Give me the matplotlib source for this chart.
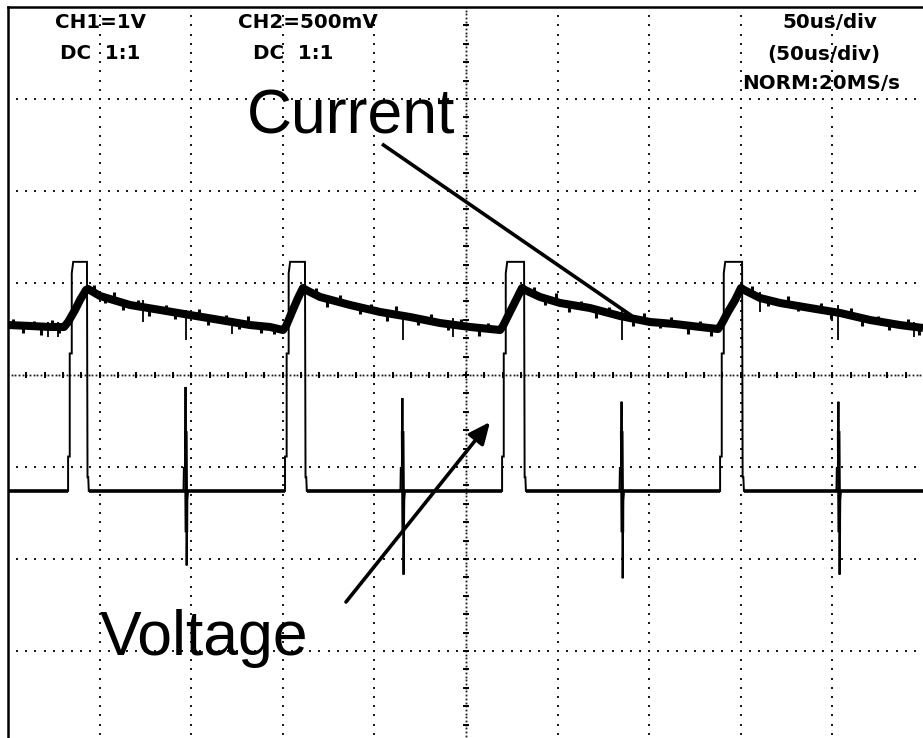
import numpy as np
import matplotlib
matplotlib.use("Agg")
import matplotlib.pyplot as plt
from matplotlib.patches import FancyArrowPatch

# ---------------- data (time in us, 50 us/div; vertical in screen divisions) ----------------
pulse_rise_us = [32.8, 151.2, 269.7, 388.7]
pulse_fall_us = [43.1, 162.1, 281.7, 400.7]
spike_us = [97.2, 215.6, 335.2, 453.6]
spike_high_div = [-0.13, -0.25, -0.29, -0.29]
spike_low_div = [-2.07, -2.17, -2.21, -2.17]
volt_base_div = -1.26
volt_top_div = 1.23

current_t_us = [0.5, 12.0, 22.9, 30.6, 32.8, 36.6, 39.3, 42.6, 43.7, 50.2, 66.6, 83.0, 99.4,
                115.7, 132.1, 143.0, 150.1, 151.8, 155.0, 158.3, 161.0, 162.7, 170.3, 186.7,
                203.1, 219.5, 235.8, 252.2, 268.6, 270.2, 274.0, 277.3, 280.6, 282.2, 290.4,
                301.3, 317.7, 334.1, 350.5, 364.1, 377.8, 387.6, 389.2, 393.0, 396.9, 400.1,
                401.8, 410.5, 421.4, 437.8, 454.2, 470.5, 486.9, 499.5]
current_div = [0.543, 0.533, 0.522, 0.522, 0.576, 0.707, 0.815, 0.924, 0.935, 0.859, 0.761,
               0.707, 0.652, 0.598, 0.543, 0.522, 0.489, 0.533, 0.685, 0.837, 0.946, 0.924,
               0.848, 0.761, 0.685, 0.630, 0.565, 0.522, 0.489, 0.533, 0.685, 0.815, 0.946,
               0.924, 0.848, 0.783, 0.728, 0.641, 0.576, 0.554, 0.522, 0.500, 0.543, 0.685,
               0.815, 0.946, 0.924, 0.837, 0.783, 0.728, 0.674, 0.598, 0.543, 0.511]

# large glitches on the current trace (absolute extents)
glitch_t_us = [21.8, 27.3, 73.7, 97.2, 122.3, 215.6, 242.9, 335.2, 410.5, 453.1, 494.6]
glitch_lo_div = [0.413, 0.413, 0.576, 0.380, 0.446, 0.380, 0.413, 0.380, 0.685, 0.380, 0.413]
glitch_hi_div = [0.576, 0.576, 0.815, 0.707, 0.620, 0.652, 0.620, 0.707, 0.902, 0.761, 0.576]

# small noise blips on the current band (time, signed extent from trace centre)
noise_t_us = [3, 8, 14, 18, 24, 28, 47, 53, 58, 63, 71, 77, 86, 91, 104, 109, 119, 126, 131,
              138, 145, 168, 174, 181, 192, 198, 207, 212, 224, 231, 240, 247, 257, 262, 287,
              293, 299, 306, 313, 321, 328, 341, 347, 356, 362, 371, 378, 384, 406, 415, 426,
              431, 444, 449, 460, 466, 475, 481, 491, 497]
noise_dy_div = [0.07, -0.08, 0.06, -0.09, 0.08, -0.07, 0.08, -0.06, 0.09, -0.08,
                0.07, -0.09, 0.06, -0.07, 0.08, -0.08, 0.07, -0.06, 0.09, -0.08,
                -0.07, 0.07, -0.09, 0.08, -0.07, 0.06, -0.08, 0.09, -0.07, 0.08,
                -0.06, 0.07, -0.09, 0.06, 0.08, -0.07, 0.09, -0.08, 0.06, -0.09,
                0.07, -0.08, 0.08, -0.06, 0.07, -0.09, 0.06, -0.08, 0.08, -0.07,
                0.09, -0.06, 0.07, -0.08, 0.08, -0.09, 0.06, -0.07, 0.08, -0.08]

header_texts = ["CH1=1V", "DC  1:1", "CH2=500mV", "DC  1:1",
                "50us/div", "(50us/div)", "NORM:20MS/s"]
header_pos_px = [(55, 28), (60, 59), (238, 28), (253, 59), (782, 28), (767, 60), (742, 89)]

label_current = "Current"
label_voltage = "Voltage"

# ---------------- figure ----------------
W, H = 923, 738
fig = plt.figure(figsize=(W / 100, H / 100), dpi=100)
fig.patch.set_facecolor("white")
ax = fig.add_axes([8 / W, (H - 743) / H, 916 / W, 736 / H])
ax.set_xlim(0, 500)
ax.set_ylim(-4, 4)
ax.set_xticks([])
ax.set_yticks([])
for s in ax.spines.values():
    s.set_linewidth(1.8)
    s.set_color("black")

dotc = "#1a1a1a"
# regular dotted grid
ydots = np.arange(-4, 4.001, 0.1)
xdots = np.arange(0, 500.01, 5.0)
for gx in [50, 100, 150, 200, 300, 350, 400, 450]:
    ax.plot(np.full_like(ydots, gx), ydots, ls="none", marker="s", ms=1.5, mew=0,
            color=dotc, zorder=1)
for gy in [-3, -2, -1, 1, 2, 3]:
    ax.plot(xdots, np.full_like(xdots, gy), ls="none", marker="s", ms=1.5, mew=0,
            color=dotc, zorder=1)

# dense centre axes with ticks
cy = np.arange(-4, 4.001, 0.04)
cx = np.arange(0, 500.01, 2.0)
ax.plot(np.full_like(cy, 250), cy, ls="none", marker="s", ms=1.3, mew=0, color=dotc, zorder=1)
ax.plot(cx, np.zeros_like(cx), ls="none", marker="s", ms=1.3, mew=0, color=dotc, zorder=1)
ty = np.arange(-4, 4.001, 0.2)
tx = np.arange(0, 500.01, 10.0)
ax.hlines(ty, 250 - 1.9, 250 + 1.9, color="black", lw=1.4, zorder=1)
ax.vlines(tx, -0.038, 0.038, color="black", lw=1.4, zorder=1)

# ---------------- voltage trace ----------------
base, top = volt_base_div, volt_top_div
A = top - base
vt, vy = [0.0], [base]
for i in range(len(pulse_rise_us)):
    tr, tf = pulse_rise_us[i], pulse_fall_us[i]
    vt += [tr, tr, tr + 0.9, tr + 0.9, tr + 2.0, tr + 2.0, tr + 2.8]
    vy += [base, base + 0.15 * A, base + 0.15 * A, base + 0.6 * A, base + 0.6 * A,
           base + 0.95 * A, top]
    vt += [tf, tf + 0.3, tf + 0.7, tf + 1.0]
    vy += [top, base + 0.06 * A, base + 0.06 * A, base]
    ts = spike_us[i]
    vt += [ts - 1.4, ts - 1.2, ts - 0.6, ts - 0.3, ts + 0.3, ts + 0.7, ts + 1.1]
    vy += [base, base + 0.25, base + 0.25, spike_high_div[i], spike_low_div[i],
           base - 0.1, base]
vt.append(500.0)
vy.append(base)
ax.plot(vt, vy, color="black", lw=1.4, zorder=3, solid_joinstyle="miter")
starts = [0.0] + [tf + 1.0 for tf in pulse_fall_us]
ends = list(pulse_rise_us) + [500.0]
ax.hlines([base] * len(starts), starts, ends, color="black", lw=2.6, zorder=3)
# thicker middle part of the ringing spikes
for i, ts in enumerate(spike_us):
    hi, lo = spike_high_div[i], spike_low_div[i]
    y1, y2 = base + 0.65, base - 0.45
    x1 = np.interp(y1, [lo, hi], [ts + 0.3, ts - 0.3])
    x2 = np.interp(y2, [lo, hi], [ts + 0.3, ts - 0.3])
    ax.plot([x1, x2], [y1, y2], color="black", lw=2.6, zorder=3, solid_capstyle="butt")

# ---------------- current trace ----------------
ax.plot(current_t_us, current_div, color="black", lw=5.8, zorder=4, solid_capstyle="butt")
ax.vlines(glitch_t_us, glitch_lo_div, glitch_hi_div, color="black", lw=1.3, zorder=4)
centre = np.interp(noise_t_us, current_t_us, current_div)
ax.vlines(noise_t_us, centre, centre + np.array(noise_dy_div), color="black", lw=2.2, zorder=4)

# ---------------- annotations ----------------
def px2data(x, y):
    return ((x - 8) * 500 / 916, (375 - y) / 92)

ax.plot(*zip(px2data(382, 144), px2data(632, 316)), color="black", lw=2.6, zorder=5,
        solid_capstyle="butt")
arr = FancyArrowPatch(px2data(346, 602), px2data(490, 422),
                      arrowstyle="-|>,head_length=1.0,head_width=0.45", mutation_scale=13,
                      lw=2.6, color="black", zorder=5, shrinkA=0, shrinkB=0)
ax.add_patch(arr)

fig.text(247 / W, 1 - 133 / H, label_current, fontsize=45, family="Liberation Sans",
         va="baseline", ha="left")
fig.text(100 / W, 1 - 655 / H, label_voltage, fontsize=45, family="Liberation Sans",
         va="baseline", ha="left")

for txt, (px, py) in zip(header_texts, header_pos_px):
    fig.text(px / W, 1 - py / H, txt, fontsize=14.3, family="DejaVu Sans", weight="bold",
             va="baseline", ha="left")

fig.savefig("out.png", dpi=100, facecolor="white")
